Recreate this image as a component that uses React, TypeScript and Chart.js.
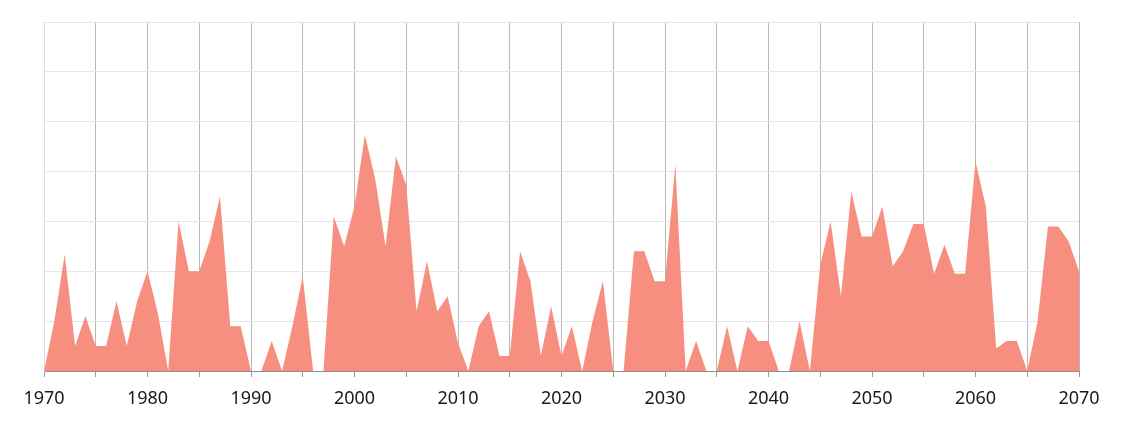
import React, { useEffect, useRef } from "react";
import { Chart, registerables } from "chart.js";

Chart.register(...registerables);

const years: number[] = [];
for (let y = 1970; y <= 2070; y++) years.push(y);

const values: number[] = [
  0, 10, 23.4, 5, 11, 5, 5, 14, 5, 14,
  20, 11.6, 0, 30, 20, 20, 26, 35, 9, 9,
  0, 0, 6, 0, 9, 19, 0, 0, 31, 25,
  33, 47.4, 38.5, 25, 43, 37.3, 12, 22, 12, 15,
  5.6, 0, 9, 12, 3, 3, 24, 18, 3, 13,
  3, 9, 0, 10, 18, 0, 0, 24, 24, 18,
  18, 41.4, 0, 6, 0, 0, 9, 0, 9, 6,
  6, 0, 0, 10, 0, 21.3, 30, 15, 36, 27,
  27, 33, 21, 24, 29.5, 29.5, 19.5, 25.3, 19.5, 19.5,
  42, 33, 4.5, 6, 6, 0, 10, 29, 29, 26,
  20,
];

const tickLabels: number[] = [1970, 1980, 1990, 2000, 2010, 2020, 2030, 2040, 2050, 2060, 2070];

export default function App() {
  const ref = useRef<HTMLCanvasElement | null>(null);
  useEffect(() => {
    if (!ref.current) return;
    const chart = new Chart(ref.current, {
      type: "line",
      data: {
        datasets: [
          {
            data: years.map((y, i) => ({ x: y, y: values[i] })),
            fill: "origin",
            backgroundColor: "#F78F80",
            borderWidth: 0,
            borderColor: "rgba(0,0,0,0)",
            pointRadius: 0,
            tension: 0,
          },
        ],
      },
      options: {
        animation: false,
        responsive: false,
        maintainAspectRatio: false,
        layout: { padding: { left: 36, right: 36, top: 14, bottom: 11 } },
        plugins: { legend: { display: false }, tooltip: { enabled: false } },
        scales: {
          x: {
            type: "linear",
            min: 1970,
            max: 2070,
            afterFit: (s: any) => {
              s.height = 36;
            },
            afterBuildTicks: (s: any) => {
              const t = [];
              for (let v = 1970; v <= 2070; v += 5) t.push({ value: v });
              s.ticks = t;
            },
            ticks: {
              autoSkip: false,
              maxRotation: 0,
              padding: 11,
              color: "#1a1a1a",
              font: { family: "'Noto Sans', sans-serif", size: 18 },
              callback: (v: any) => (tickLabels.includes(Number(v)) ? String(v) : ""),
            },
            grid: {
              color: (ctx: any) => (ctx.tick && ctx.tick.value === 1970 ? "#dddddd" : "#b8b8b8"),
              tickColor: "#9a9a9a",
              tickLength: 6,
              drawTicks: true,
              lineWidth: 1,
            },
            border: { display: true, color: "#8f8f8f", width: 1 },
          },
          y: {
            min: 0,
            max: 70,
            ticks: { display: false, stepSize: 10 },
            grid: { color: "#e6e6e6", drawTicks: false, lineWidth: 1 },
            border: { display: true, color: "#dcdcdc" },
          },
        },
      },
    });
    return () => chart.destroy();
  }, []);
  return <canvas ref={ref} width={1107} height={410} style={{ display: "block" }} />;
}
